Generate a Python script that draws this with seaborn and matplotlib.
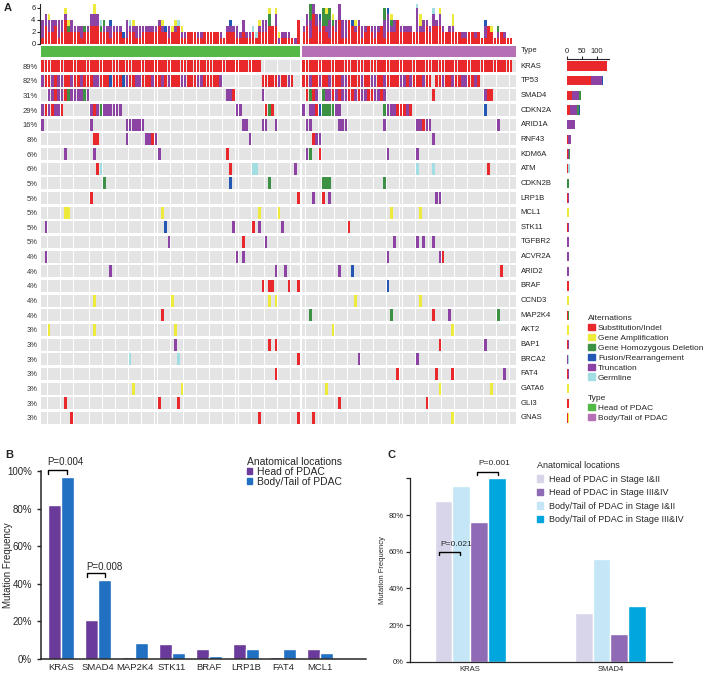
import numpy as np
import pandas as pd
import matplotlib
matplotlib.use("Agg")
import matplotlib.pyplot as plt
from matplotlib.patches import Patch
import seaborn as sns

# ---- data: panel A (oncoprint) ----
genes = ["KRAS", "TP53", "SMAD4", "CDKN2A", "ARID1A", "RNF43", "KDM6A", "ATM",
         "CDKN2B", "LRP1B", "MCL1", "STK11", "TGFBR2", "ACVR2A", "ARID2", "BRAF",
         "CCND3", "MAP2K4", "AKT2", "BAP1", "BRCA2", "FAT4", "GATA6", "GLI3", "GNAS"]
pct_labels = ["89%", "82%", "31%", "29%", "16%", "8%", "6%", "6%", "5%", "5%", "5%",
              "5%", "5%", "4%", "4%", "4%", "4%", "4%", "3%", "3%", "3%", "3%", "3%",
              "3%", "3%"]
n_head, n_body = 80, 66

# "start:codes" (one code per sample from start) or "a-b:X" (samples a..b all X)
# S=substitution/indel A=amplification D=homozygous deletion F=fusion T=truncation G=germline
alterations = {
    "KRAS": "0-67:S 80-144:S",
    "TP53": "0:TSSTSTTSSTSSTSSSTTSSSFSSSFTSSTTSSSTSSTSTSSSTTSSSTTSSSSST 68:SSSSSTSSTS "
            "80:SSTSSTSSTSSSTTSSSSTSSTTSSTSSSSTTSTSSSTSS 121:SSTSSTSSTTSSTS",
    "SMAD4": "2:TTSTTSDTTTTDT 57:TTS 68:T 81:SDST 86:DTTSTSTTSSTSTTSSTTST 120:S 136:TSS",
    "CDKN2A": "0:TSTSTTS 15:TSTDTTTTTT 60:TT 69:SDS 80:T 82:TTSFDDDDTT 105:DTTTSSSTS 136:F",
    "ARID1A": "0:T 15:T 26:TTTTTT 62:TT 68:TT 72:T 81:TT 91:TTT 105:T 115:TTSTT 140:T",
    "RNF43": "16:SS 26:T 32:TTST 64:T 83:STT 120:T",
    "KDM6A": "7:T 16:T 36:T 57:S 81:TD 85:S 106:T 115:T",
    "ATM": "17:SG 58:S 65:GG 78:T 115:G 120:G 137:S",
    "CDKN2B": "19:D 58:F 70:D 86:DDD 105:D",
    "LRP1B": "15:S 79:S 83:T 86:S 88:T 121:TT",
    "MCL1": "7:AA 37:A 67:A 73:A 107:A 116:A",
    "STK11": "1:T 38:F 59:T 65:S 67:T 74:T 94:S",
    "TGFBR2": "39:T 62:S 69:T 108:T 115:T 117:T 120:T",
    "ACVR2A": "1:T 60:T 62:T 106:T 122:TS",
    "ARID2": "21:T 72:T 75:T 91:T 95:F 141:S",
    "BRAF": "68:S 70:SS 76:S 79:S 106:F",
    "CCND3": "16:A 40:A 70:A 72:A 96:A 116:A",
    "MAP2K4": "37:S 82:D 107:D 120:S 125:T 140:D",
    "AKT2": "2:A 16:A 41:A 89:A 126:A",
    "BAP1": "41:T 70:S 72:S 122:S 136:T",
    "BRCA2": "27:G 42:G 79:S 97:T 115:T",
    "FAT4": "72:S 109:S 121:S 126:S 142:T",
    "GATA6": "28:A 43:A 87:A 122:A 138:A",
    "GLI3": "7:S 36:S 42:S 91:S 118:S",
    "GNAS": "9:S 67:S 79:S 83:S 126:A",
}

alt_names = {"S": "Substitution/Indel", "A": "Gene Amplification",
             "D": "Gene Homozygous Deletion", "F": "Fusion/Rearrangement",
             "T": "Truncation", "G": "Germline"}
alt_colors = {"S": "#e8282b", "A": "#eeea3b", "D": "#3d9142", "F": "#2357b3",
              "T": "#8c43a3", "G": "#a2dde2"}
legend_order = ["S", "A", "D", "F", "T", "G"]
stack_order = ["S", "T", "D", "F", "G", "A"]
type_colors = {"Head of PDAC": "#55b947", "Body/Tail of PDAC": "#b671b5"}

# ---- data: panel B ----
b_genes = ["KRAS", "SMAD4", "MAP2K4", "STK11", "BRAF", "LRP1B", "FAT4", "MCL1"]
b_head = [82, 21, 1, 8, 5.5, 8, 1, 5.5]
b_body = [97, 42, 8.5, 3, 1.5, 5.5, 5.5, 3]

# ---- data: panel C ----
c_genes = ["KRAS", "SMAD4"]
c_head_early = [87.5, 26.5]
c_body_early = [96, 56]
c_head_late = [76, 15]
c_body_late = [100, 30.5]

# ---- setup ----
sns.set_style("ticks")
plt.rcParams["font.family"] = ["Liberation Sans", "DejaVu Sans"]
W, H = 709, 676
fig = plt.figure(figsize=(W / 100, H / 100), dpi=100)


def px_axes(x0, y0, x1, y1):
    return fig.add_axes([x0 / W, 1 - y1 / H, (x1 - x0) / W, (y1 - y0) / H])


# parse oncoprint strings into a long table
rows = []
for gi, g in enumerate(genes):
    for seg in alterations[g].split():
        pos, codes = seg.split(":")
        if "-" in pos:
            a, b = map(int, pos.split("-"))
            cols = list(range(a, b + 1))
            codes = codes * len(cols)
        else:
            cols = list(range(int(pos), int(pos) + len(codes)))
        for c, code in zip(cols, codes):
            rows.append((g, gi, c, code))
df = pd.DataFrame(rows, columns=["gene", "row", "sample", "alt"])
df = df.drop_duplicates(["row", "sample"], keep="last")
gap = 0.62
N = n_head + n_body
sample_x = np.arange(N) + np.where(np.arange(N) >= n_head, gap, 0)
df["x"] = sample_x[df["sample"].values]
xlim = (-0.5, N - 0.5 + gap)

# top stacked bars
ax_top = px_axes(41, 4, 516, 44)
counts = pd.crosstab(df["sample"], df["alt"]).reindex(index=range(N), columns=stack_order,
                                                     fill_value=0)
bottom = np.zeros(N)
for code in stack_order:
    ax_top.bar(sample_x, counts[code].values, bottom=bottom, width=0.8,
               color=alt_colors[code], linewidth=0)
    bottom += counts[code].values
ax_top.set_xlim(xlim)
ax_top.set_ylim(0, 40 / 6.08)
ax_top.set_yticks([0, 2, 4, 6])
ax_top.tick_params(axis="y", labelsize=5.5, length=2, pad=1)
ax_top.set_xticks([])
for s in ["top", "right", "bottom"]:
    ax_top.spines[s].set_visible(False)
ax_top.spines["left"].set_linewidth(0.8)
ax_top.spines["left"].set_position(("outward", 1))

# type bar
ax_type = px_axes(41, 46, 516, 57)
type_list = ["Head of PDAC"] * n_head + ["Body/Tail of PDAC"] * n_body
ax_type.bar(sample_x, 1, width=1.0, color=[type_colors[t] for t in type_list], linewidth=0)
ax_type.set_xlim(xlim)
ax_type.set_ylim(0, 1)
ax_type.axis("off")
fig.text(521 / W, 1 - 51 / H, "Type", fontsize=5.5, va="center")

# matrix
ax_m = px_axes(41, 58.7, 516, 425.3)
for r in range(len(genes)):
    ax_m.bar(sample_x, 0.82, bottom=r - 0.41, width=0.92, color="#e4e4e4", linewidth=0)
ax_m.bar(df["x"], 0.82, bottom=df["row"] - 0.41, width=0.82,
         color=df["alt"].map(alt_colors).tolist(), linewidth=0)
ax_m.set_xlim(xlim)
ax_m.set_ylim(len(genes) - 0.5, -0.5)
ax_m.set_yticks(range(len(genes)))
ax_m.set_yticklabels(pct_labels)
ax_m.tick_params(axis="y", length=0, pad=2.5, labelsize=5.5, labelcolor="#333333")
ax_m.set_xticks([])
for s in ax_m.spines.values():
    s.set_visible(False)
for r, g in enumerate(genes):
    ax_m.text(1.01, r, g, transform=ax_m.get_yaxis_transform(), fontsize=5.5,
              va="center", ha="left", color="#222222")

# right bars (count per gene)
ax_r = px_axes(567, 58.7, 609, 425.3)
sns.histplot(data=df, y="row", hue="alt", hue_order=stack_order[::-1], multiple="stack",
             discrete=True, shrink=0.62, palette=alt_colors, linewidth=0, alpha=1,
             legend=False, ax=ax_r)
ax_r.set_ylim(len(genes) - 0.5, -0.5)
ax_r.set_xlim(0, 140)
ax_r.xaxis.tick_top()
ax_r.set_xticks([0, 50, 100])
ax_r.tick_params(axis="x", labelsize=5.5, length=2, pad=1)
ax_r.set_yticks([])
ax_r.set_xlabel("")
ax_r.set_ylabel("")
for s in ["bottom", "right", "left"]:
    ax_r.spines[s].set_visible(False)
ax_r.spines["top"].set_linewidth(0.8)

# A legends
leg_kw = dict(loc="upper left", frameon=False, fontsize=6, title_fontsize=6,
              alignment="left", handlelength=0.8, handleheight=0.8, handletextpad=0.4,
              labelspacing=0.22, borderpad=0, borderaxespad=0)
h1 = [Patch(color=alt_colors[c], label=alt_names[c]) for c in legend_order]
fig.legend(handles=h1, title="Alternations", bbox_to_anchor=(588 / W, 1 - 315 / H), **leg_kw)
h2 = [Patch(color=v, label=k) for k, v in type_colors.items()]
fig.legend(handles=h2, title="Type", bbox_to_anchor=(588 / W, 1 - 395 / H), **leg_kw)

fig.text(4 / W, 1 - 8 / H, "A", fontsize=8, fontweight="bold", va="center")
fig.text(5 / W, 1 - 455 / H, "B", fontsize=8, fontweight="bold", va="center")
fig.text(388 / W, 1 - 455 / H, "C", fontsize=8, fontweight="bold", va="center")


def bracket(ax, x0, x1, y, drop, text, tx, ty, fs):
    ax.plot([x0, x0, x1, x1], [y - drop, y, y, y - drop], color="black", lw=1.0,
            clip_on=False)
    ax.text(tx, ty, text, ha="center", va="center", fontsize=fs, clip_on=False)


# ---- panel B ----
ax_b = px_axes(41, 471, 366, 659)
df_b = pd.DataFrame({"gene": b_genes * 2,
                     "freq": b_head + b_body,
                     "loc": ["Head of PDAC"] * len(b_genes) + ["Body/Tail of PDAC"] * len(b_genes)})
b_pal = {"Head of PDAC": "#6a3b9b", "Body/Tail of PDAC": "#2170c2"}
sns.barplot(data=df_b, x="gene", y="freq", hue="loc", palette=b_pal, width=0.7,
            saturation=1, ax=ax_b, legend=False)
ax_b.set_xlim(-0.54, 8.24)
ax_b.set_ylim(0, 100)
ax_b.set_yticks([0, 20, 40, 60, 80, 100])
ax_b.set_yticklabels([f"{v}%" for v in [0, 20, 40, 60, 80, 100]])
ax_b.tick_params(axis="y", labelsize=7, length=3, width=1)
ax_b.tick_params(axis="x", labelsize=6.8, length=0, pad=3)
ax_b.set_xlabel("")
ax_b.set_ylabel("Mutation Frequency", fontsize=7)
ax_b.yaxis.set_label_coords(-0.085, 0.5)
sns.despine(ax=ax_b)
for s in ["left", "bottom"]:
    ax_b.spines[s].set_linewidth(1.1)
bracket(ax_b, -0.35, 0.16, 100.5, 2.2, "P=0.004", 0.11, 104.8, 7)
bracket(ax_b, 0.71, 1.19, 45.6, 2.2, "P=0.008", 1.16, 49.0, 7)
hb = [Patch(color=v, label=k) for k, v in b_pal.items()]
ax_b.legend(handles=hb, title="Anatomical locations", loc="upper left",
            bbox_to_anchor=(247 / W, 1 - 457 / H), bbox_transform=fig.transFigure,
            frameon=False, fontsize=7.5, title_fontsize=7.5, alignment="left",
            handlelength=0.5, handleheight=0.5, handletextpad=0.5, labelspacing=0.0,
            borderpad=0, borderaxespad=0)

# ---- panel C ----
ax_c = px_axes(410, 478.4, 672, 661.7)
c_order = ["Head of PDAC in Stage I&II", "Body/Tail of PDAC in Stage I&II",
           "Head of PDAC in Stage III&IV", "Body/Tail of PDAC in Stage III&IV"]
c_pal = {"Head of PDAC in Stage I&II": "#d8d5ea",
         "Head of PDAC in Stage III&IV": "#8e6bb4",
         "Body/Tail of PDAC in Stage I&II": "#c4e6f6",
         "Body/Tail of PDAC in Stage III&IV": "#00a6dd"}
df_c = pd.DataFrame({"gene": c_genes * 4,
                     "freq": c_head_early + c_body_early + c_head_late + c_body_late,
                     "loc": [c_order[0]] * 2 + [c_order[1]] * 2 + [c_order[2]] * 2 + [c_order[3]] * 2})
sns.barplot(data=df_c, x="gene", y="freq", hue="loc", hue_order=c_order, palette=c_pal,
            width=0.507, saturation=1, ax=ax_c, legend=False)
ax_c.set_xlim(-0.43, 1.44)
ax_c.set_ylim(0, 100)
ax_c.set_yticks([0, 20, 40, 60, 80, 100])
ax_c.set_yticklabels(["0%", "20%", "40%", "60%", "80%", ""])
ax_c.tick_params(axis="y", labelsize=5.5, length=3, width=0.9, pad=1.5)
ax_c.tick_params(axis="x", labelsize=5.5, length=0, pad=3)
ax_c.set_xlabel("")
ax_c.set_ylabel("Mutation Frequency", fontsize=5.5)
ax_c.yaxis.set_label_coords(-0.09, 0.5)
sns.despine(ax=ax_c)
for s in ["left", "bottom"]:
    ax_c.spines[s].set_linewidth(0.9)
bracket(ax_c, 0.05, 0.20, 103.5, 1.5, "P=0.001", 0.17, 108.4, 6)
bracket(ax_c, -0.22, -0.07, 59.8, 1.5, "P=0.021", -0.10, 64.2, 6)
legend_c = ["Head of PDAC in Stage I&II", "Head of PDAC in Stage III&IV",
            "Body/Tail of PDAC in Stage I&II", "Body/Tail of PDAC in Stage III&IV"]
hc = [Patch(color=c_pal[k], label=k) for k in legend_c]
ax_c.legend(handles=hc, title="Anatomical locations", loc="upper left",
            bbox_to_anchor=(537 / W, 1 - 461 / H), bbox_transform=fig.transFigure,
            frameon=False, fontsize=6.5, title_fontsize=6.5, alignment="left",
            handlelength=0.7, handleheight=0.7, handletextpad=0.6, labelspacing=0.5,
            borderpad=0, borderaxespad=0)

fig.savefig("out.png", dpi=100)
